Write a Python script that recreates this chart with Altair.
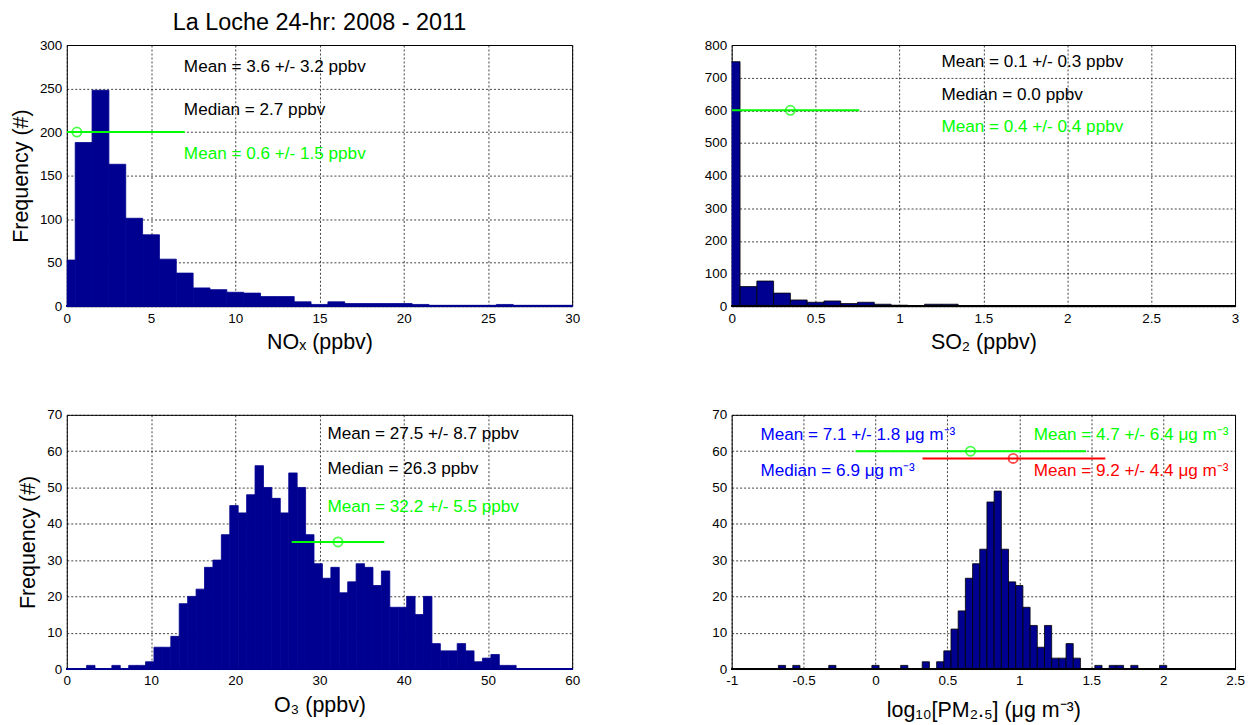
import altair as alt
import pandas as pd

NAVY = "#000090"
GREEN = "#00ff00"
RED = "#ff0000"
BLUE = "#0000ff"
FONT = "Liberation Sans"

# ---------------- data ----------------
# NOx histogram (bin width 1, centres 0..30)
nox_centers = list(range(0, 31))
nox_counts = [53, 188, 248, 163, 101, 82, 54, 38, 21, 19, 16, 15, 11, 11, 5, 2,
              5, 3, 3, 3, 3, 2, 1, 1, 1, 1, 2, 1, 1, 1, 1]

# SO2 histogram (bin width 0.1, centres 0..3.0)
so2_centers = [round(0.1 * i, 1) for i in range(0, 31)]
so2_counts = [749, 60, 77, 40, 19, 12, 16, 8, 12, 6, 3, 2, 6, 6, 0, 2, 2, 2, 2,
              0, 0, 0, 0, 2, 0, 0, 0, 0, 0, 2, 0]

# O3 histogram (bin width 1)
o3_centers = [2.85 + i for i in range(0, 51)]
o3_counts = [1, 0, 0, 1, 0, 1, 1, 2, 6, 6, 9, 18, 20, 22, 28, 30, 37, 45, 43, 48,
             56, 50, 47, 43, 54, 50, 37, 29, 25, 28, 21, 24, 29, 28, 23, 27, 17, 17,
             20, 15, 20, 7, 5, 5, 7, 5, 2, 3, 4, 1, 1]

# log10 PM2.5 histogram (bin width 0.05)
pm_centers = [-0.65, -0.55, -0.3, 0.0, 0.2, 0.35, 0.45, 0.5, 0.55, 0.6, 0.65, 0.7,
              0.75, 0.8, 0.85, 0.9, 0.95, 1.0, 1.05, 1.1, 1.15, 1.2, 1.25, 1.3,
              1.35, 1.4, 1.55, 1.65, 1.7, 1.8, 2.0]
pm_counts = [1, 1, 1, 1, 1, 2, 2, 5, 11, 16, 25, 29, 33, 46, 49, 33, 24, 23, 17,
             12, 6, 12, 3, 3, 7, 3, 1, 1, 1, 1, 1]

# annotations
nox_text = ["Mean = 3.6 +/- 3.2 ppbv", "Median = 2.7 ppbv", "Mean = 0.6 +/- 1.5 ppbv"]
nox_text_x = [6.95, 6.95, 6.95]
nox_text_y = [275, 225, 175]
nox_text_c = ["black", "black", GREEN]

so2_text = ["Mean = 0.1 +/- 0.3 ppbv", "Median = 0.0 ppbv", "Mean = 0.4 +/- 0.4 ppbv"]
so2_text_x = [1.25, 1.25, 1.25]
so2_text_y = [747, 647, 548]
so2_text_c = ["black", "black", GREEN]

o3_text = ["Mean = 27.5 +/- 8.7 ppbv", "Median = 26.3 ppbv", "Mean = 32.2 +/- 5.5 ppbv"]
o3_text_x = [30.95, 30.95, 30.95]
o3_text_y = [64.8, 55, 44.7]
o3_text_c = ["black", "black", GREEN]

pm_text = ["Mean = 7.1 +/- 1.8 \u03bcg m\u207b\u00b3", "Median = 6.9 \u03bcg m\u207b\u00b3",
           "Mean = 4.7 +/- 6.4 \u03bcg m\u207b\u00b3", "Mean = 9.2 +/- 4.4 \u03bcg m\u207b\u00b3"]
pm_text_x = [-0.8, -0.8, 1.1, 1.1]
pm_text_y = [64.4, 54.5, 64.4, 54.5]
pm_text_c = [BLUE, BLUE, GREEN, RED]

# error bars: centre, low, high, level, colour
nox_err = dict(c=[0.6], lo=[0.0], hi=[7.0], y=[200], col=[GREEN])
so2_err = dict(c=[0.35], lo=[0.0], hi=[0.76], y=[600], col=[GREEN])
o3_err = dict(c=[32.2], lo=[26.7], hi=[37.7], y=[35], col=[GREEN])
pm_err = dict(c=[0.661, 0.957], lo=[-0.138, 0.327], hi=[1.464, 1.598], y=[60, 58],
              col=[GREEN, RED])


def panel(centers, counts, width_bin, stroke, xdom, xticks, ydom, yticks,
          xtitle, ytitle, tx, ty, tt, tc, err, w, h, title=None, xtitle_pad=7):
    hist = pd.DataFrame({"c": centers, "n": counts})
    hist = hist[hist["n"] > 0].copy()
    hist["x"] = hist["c"] - width_bin / 2
    hist["x2"] = hist["c"] + width_bin / 2
    texts = pd.DataFrame({"x": tx, "y": ty, "t": tt, "col": tc})
    errs = pd.DataFrame({"x": err["c"], "lo": err["lo"], "hi": err["hi"],
                         "y": err["y"], "col": err["col"]})

    xscale = alt.Scale(domain=xdom, nice=False, zero=False)
    yscale = alt.Scale(domain=ydom, nice=False)
    xaxis = alt.Axis(values=xticks, labelExpr="datum.value + ''", grid=True,
                     labelFlush=False, labelOverlap=False, titlePadding=xtitle_pad)
    yaxis = alt.Axis(values=yticks, labelExpr="datum.value + ''", grid=True,
                     labelFlush=False, labelOverlap=False)

    def X(f):
        return alt.X(f, type="quantitative", scale=xscale, axis=xaxis, title=xtitle)

    def Y(f):
        return alt.Y(f, type="quantitative", scale=yscale, axis=yaxis, title=ytitle)

    bars = alt.Chart(hist).mark_rect(color=NAVY, stroke=stroke, strokeWidth=0.8,
                                     clip=True).encode(
        x=X("x"), x2="x2", y=Y("n"), y2=alt.datum(0))
    base = alt.Chart(hist).mark_rule(color=stroke, strokeWidth=1.5).encode(
        y=alt.YDatum(0, type="quantitative", scale=yscale, axis=yaxis,
                     title=ytitle))
    lines = alt.Chart(errs).mark_rule(strokeWidth=2, clip=True).encode(
        x=X("lo"), x2="hi", y=Y("y"),
        color=alt.Color("col:N", scale=None))
    pts = alt.Chart(errs).mark_point(shape="circle", filled=False, size=85,
                                     strokeWidth=1.8).encode(
        x=X("x"), y=Y("y"), color=alt.Color("col:N", scale=None))
    txt = alt.Chart(texts).mark_text(align="left", baseline="middle", font=FONT,
                                     fontSize=17.2).encode(
        x=X("x"), y=Y("y"), text="t:N", color=alt.Color("col:N", scale=None))
    props = dict(width=w, height=h)
    if title is not None:
        props["title"] = alt.TitleParams(title, font=FONT, fontSize=23.5,
                                         fontWeight="normal", offset=4,
                                         anchor="middle", color="black")
    return alt.layer(bars, base, lines, pts, txt).properties(**props)


p1 = panel(nox_centers, nox_counts, 1.0, NAVY, [0, 30], list(range(0, 31, 5)),
           [0, 300], list(range(0, 301, 50)), "NO\u2093 (ppbv)", "Frequency (#)",
           nox_text_x, nox_text_y, nox_text, nox_text_c, nox_err, 507, 262,
           title="La Loche 24-hr: 2008 - 2011")
p2 = panel(so2_centers, so2_counts, 0.1, "black", [0, 3],
           [0, 0.5, 1, 1.5, 2, 2.5, 3], [0, 800], list(range(0, 801, 100)),
           "SO\u2082 (ppbv)", None, so2_text_x, so2_text_y, so2_text, so2_text_c,
           so2_err, 505, 262)
p3 = panel(o3_centers, o3_counts, 1.0, NAVY, [0, 60], list(range(0, 61, 10)),
           [0, 70], list(range(0, 71, 10)), "O\u2083 (ppbv)", "Frequency (#)",
           o3_text_x, o3_text_y, o3_text, o3_text_c, o3_err, 507, 255)
p4 = panel(pm_centers, pm_counts, 0.05, "black", [-1, 2.5],
           [-1, -0.5, 0, 0.5, 1, 1.5, 2, 2.5], [0, 70], list(range(0, 71, 10)),
           "log\u2081\u2080[PM\u2082.\u2085] (\u03bcg m\u207b\u00b3)", None,
           pm_text_x, pm_text_y, pm_text, pm_text_c, pm_err, 505, 255,
           xtitle_pad=12)

chart = alt.concat(p1, p2, p3, p4, columns=2,
                   spacing={"row": 109, "column": 160},
                   bounds="flush").properties(
    padding={"left": 9, "top": 9, "right": 5, "bottom": 2},
    background="white",
).configure_view(stroke="black", strokeWidth=1).configure_axis(
    labelFont=FONT, labelFontSize=13.5, labelColor="black",
    titleFont=FONT, titleFontSize=21.5, titleFontWeight="normal", titleColor="black",
    domain=False, ticks=False, labelPadding=5, titlePadding=7,
    gridColor="black", gridDash=[2, 2], gridOpacity=0.75, gridWidth=1,
)

chart.save("out.html", embed_options={"renderer": "svg", "actions": False})
